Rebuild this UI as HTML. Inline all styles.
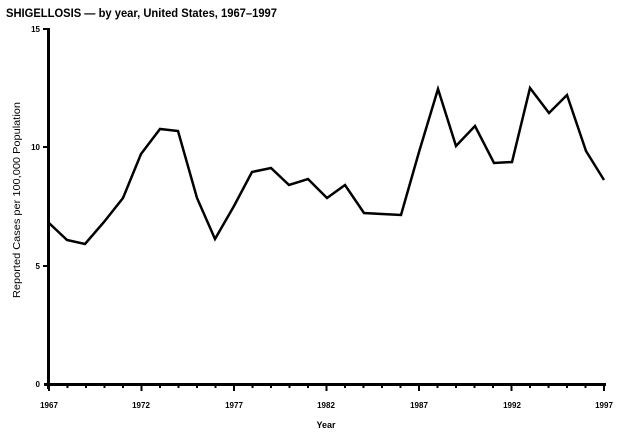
<!DOCTYPE html>
<html><head><meta charset="utf-8"><style>
html,body{margin:0;padding:0;background:#fff;}
svg{display:block;}
text{font-family:"Liberation Sans",sans-serif;fill:#000;}
</style></head><body>
<svg width="629" height="433" viewBox="0 0 629 433" xmlns="http://www.w3.org/2000/svg">
<text x="6" y="17" font-size="11.5" font-weight="bold" textLength="271" lengthAdjust="spacingAndGlyphs">SHIGELLOSIS — by year, United States, 1967–1997</text>
<line x1="48.5" y1="28" x2="48.5" y2="389" stroke="#000" stroke-width="3"/>
<line x1="44" y1="384.5" x2="606" y2="384.5" stroke="#000" stroke-width="3"/>
<g stroke="#000" stroke-width="2">
<line x1="43" y1="29" x2="48" y2="29"/>
<line x1="43" y1="147" x2="48" y2="147"/>
<line x1="43" y1="266" x2="48" y2="266"/>
</g>
<g font-size="8" font-weight="bold" text-anchor="end">
<text x="40" y="32">15</text><text x="40" y="150">10</text><text x="40" y="269">5</text><text x="40" y="387">0</text>
</g>
<g stroke="#000" stroke-width="2" id="ticks"></g>
<g font-size="8" font-weight="bold" text-anchor="middle">
<text x="49" y="408">1967</text><text x="141" y="408">1972</text><text x="234" y="408">1977</text><text x="326" y="408">1982</text><text x="419" y="408">1987</text><text x="512" y="408">1992</text><text x="604" y="408">1997</text>
</g>
<text x="326" y="428" font-size="9" font-weight="bold" text-anchor="middle">Year</text>
<text transform="translate(20,200) rotate(-90)" font-size="10.5" text-anchor="middle" textLength="196" lengthAdjust="spacingAndGlyphs">Reported Cases per 100,000 Population</text>
<polyline fill="none" stroke="#000" stroke-width="2.5" stroke-linejoin="miter" points="49,223 67,240 85,244 104,222 123,198 141,154 160,129 178,131 197,198 215,239 234,206 252,172 271,168 289,185 308,179 327,198 345,185 364,213 382,214 401,215 419,152 438,89 456,146 475,126 494,163 512,162 530,88 549,113 567,95 586,151 604,180"/>
<script>
var g=document.getElementById('ticks');
for(var i=0;i<=30;i++){var x=49+i*18.5;var l=document.createElementNS('http://www.w3.org/2000/svg','line');
l.setAttribute('x1',x);l.setAttribute('x2',x);l.setAttribute('y1',385);l.setAttribute('y2',i%5==0?391:388);g.appendChild(l);}
</script>
</svg>
</body></html>
